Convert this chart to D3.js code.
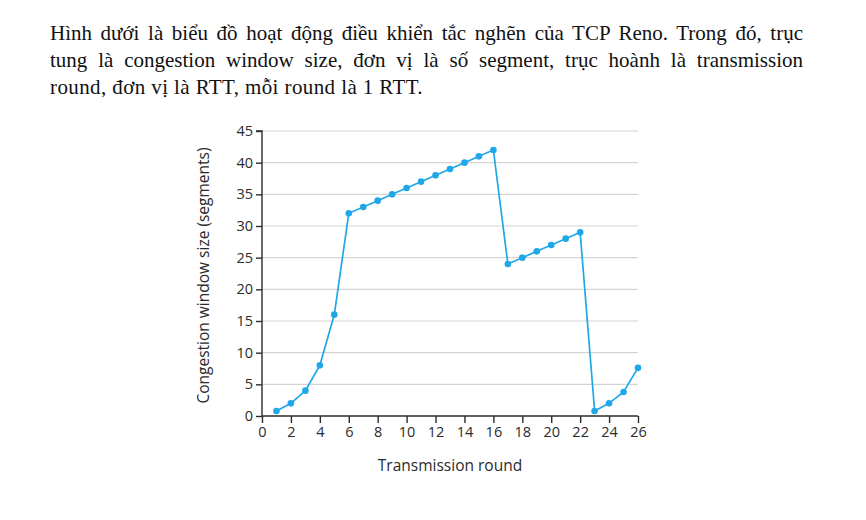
<!DOCTYPE html>
<html>
<head>
<meta charset="utf-8">
<script src="https://cdn.jsdelivr.net/npm/d3@7"></script>
<style>
  body { margin: 0; background: #fff; width: 866px; height: 520px; overflow: hidden; position: relative; }
  .para { position: absolute; left: 50px; top: 20px; width: 753px; font-family: "Liberation Serif", "Times New Roman", serif; font-size: 21px; line-height: 27px; color: #111; }
  .para div { text-align: justify; text-align-last: justify; white-space: nowrap; }
  .para div.last { text-align-last: left; letter-spacing: 0.4px; }
  svg { position: absolute; left: 0; top: 0; }
  .axis text { font-family: "Open Sans", "Noto Sans", sans-serif; font-size: 14.5px; fill: #2b2b2b; }
  .axis path, .axis line { stroke: #2b2b2b; }
</style>
</head>
<body>
<div class="para">
  <div>Hình dưới là biểu đồ hoạt động điều khiển tắc nghẽn của TCP Reno. Trong đó, trục</div>
  <div>tung là congestion window size, đơn vị là số segment, trục hoành là transmission</div>
  <div class="last">round, đơn vị là RTT, mỗi round là 1 RTT.</div>
</div>
<div id="chart"></div>
<script>
// transmission rounds and congestion window values (segments)
const rounds = [1,2,3,4,5,6,7,8,9,10,11,12,13,14,15,16,17,18,19,20,21,22,23,24,25,26]
const cwnd = [0.8,2,4,8,16,32,33,34,35,36,37,38,39,40,41,42,24,25,26,27,28,29,0.8,2,3.8,7.6]
const xTicks = [0,2,4,6,8,10,12,14,16,18,20,22,24,26]
const yTicks = [0,5,10,15,20,25,30,35,40,45]

const margin = {top: 131, left: 262}
const width = 376, height = 285

let svg = d3.select('#chart').append('svg')
    .attr('width', 866)
    .attr('height', 520)

let g = svg.append('g').attr('transform', `translate(${margin.left}, ${margin.top})`)

let x = d3.scaleLinear().domain([0, 26]).range([0, width])
let y = d3.scaleLinear().domain([0, 45]).range([height, 0])

// grid lines
g.append('g')
  .selectAll('line')
  .data(yTicks.filter(d => d > 0))
  .enter()
  .append('line')
    .attr('x1', 0)
    .attr('x2', x(26))
    .attr('y1', d => y(d))
    .attr('y2', d => y(d))
    .style('stroke', '#d4d4d4')
    .style('stroke-width', 1.2)

let axisLeft = g.append('g')
  .attr('class', 'axis')
  .call(d3.axisLeft(y).tickValues(yTicks).tickSize(6).tickPadding(3))
axisLeft.select('.domain').attr('d', `M-6,${y(45)}H0V${y(0)}`).style('stroke-width', 1.4)
axisLeft.selectAll('line').style('stroke-width', 1.4)

let axisBottom = g.append('g')
  .attr('class', 'axis')
  .attr('transform', `translate(0, ${height})`)
  .call(d3.axisBottom(x).tickValues(xTicks).tickSize(7).tickPadding(4))
axisBottom.select('.domain').attr('d', `M0,0H${x(26)}`).style('stroke-width', 1.4)
axisBottom.selectAll('line').style('stroke-width', 1.4)

const color = '#1fa8e8'

let line = d3.line()
  .x((d, i) => x(rounds[i]))
  .y(d => y(d))

g.append('path')
  .datum(cwnd)
  .attr('d', line)
  .style('fill', 'none')
  .style('stroke', color)
  .style('stroke-width', 1.7)

g.append('g')
  .selectAll('circle')
  .data(cwnd)
  .enter()
  .append('circle')
    .attr('cx', (d, i) => x(rounds[i]))
    .attr('cy', d => y(d))
    .attr('r', 3.3)
    .style('fill', color)

// axis titles
svg.append('text')
  .attr('x', margin.left + x(13))
  .attr('y', 471)
  .attr('text-anchor', 'middle')
  .style('font-family', '"Open Sans", "Noto Sans", sans-serif')
  .style('font-size', '15.5px')
  .style('fill', '#2b2b2b')
  .text('Transmission round')

svg.append('text')
  .attr('transform', `translate(209, ${margin.top + height / 2 + 2}) rotate(-90)`)
  .attr('text-anchor', 'middle')
  .style('font-family', '"Open Sans", "Noto Sans", sans-serif')
  .style('font-size', '15.5px')
  .style('fill', '#2b2b2b')
  .text('Congestion window size (segments)')
</script>
</body>
</html>
